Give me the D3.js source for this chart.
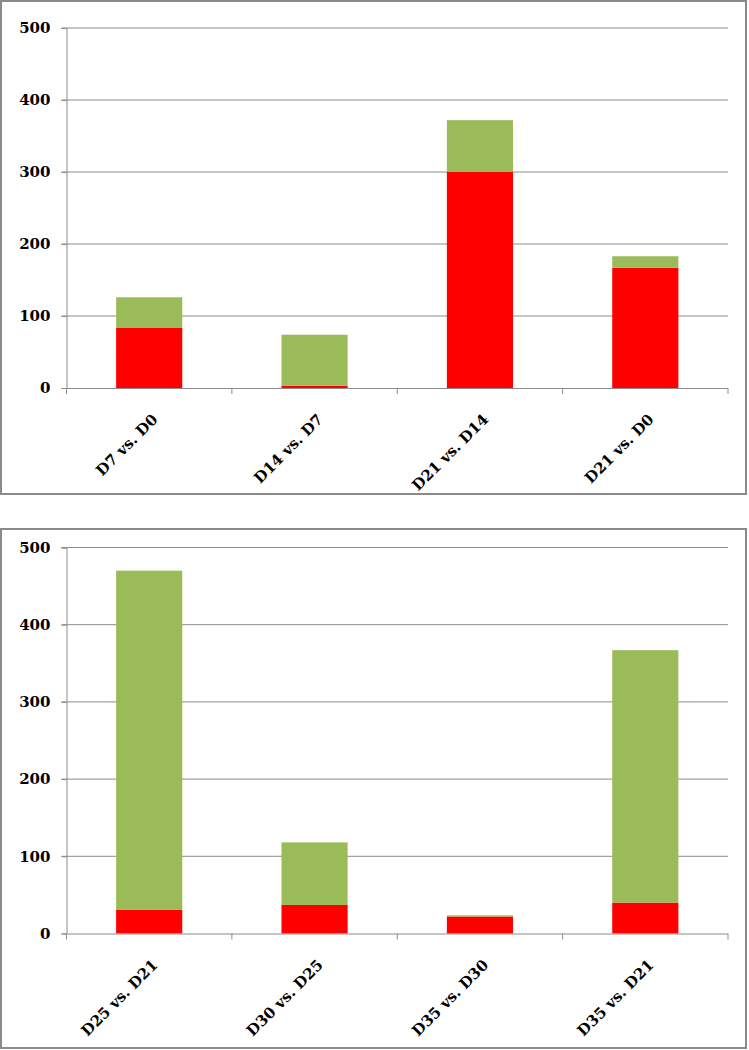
<!DOCTYPE html>
<html>
<head>
    <title></title>
    <style>
        body { margin: 0; background: #fff; }
    </style>
</head>
<body>
<div id="container"></div>

<script src="https://d3js.org/d3.v7.min.js" type="text/javascript"></script>
<script type="text/javascript">
    // data
    const cats1 = ['D7 vs. D0', 'D14 vs. D7', 'D21 vs. D14', 'D21 vs. D0'];
    const red1 = [84, 3, 300, 167];
    const green1 = [42, 71, 72, 16];

    const cats2 = ['D25 vs. D21', 'D30 vs. D25', 'D35 vs. D30', 'D35 vs. D21'];
    const red2 = [31, 37, 22, 40];
    const green2 = [439, 81, 1.5, 327];

    const yTicks = [0, 100, 200, 300, 400, 500];

    let w = 749;
    let h = 1050;
    const svg = d3.select('#container')
        .append('svg')
        .attr('width', w)
        .attr('height', h);

    const colors = { red: '#ff0000', green: '#9bbb59' };
    const gridColor = '#8c8c8c';

    function panel(box, plot, cats, red, green) {
        svg.append('rect')
            .attr('x', box.x)
            .attr('y', box.y)
            .attr('width', box.w)
            .attr('height', box.h)
            .style('fill', '#fff')
            .style('stroke', '#8a8a8a')
            .style('stroke-width', 2);

        let x = d3.scaleBand().domain(cats).range([plot.left, plot.right]).paddingInner(0.6).paddingOuter(0.3);
        let y = d3.scaleLinear().domain([0, 500]).range([plot.bottom, plot.top]);

        const g = svg.append('g');

        // gridlines
        g.selectAll('.grid')
            .data(yTicks.filter(d => d > 0))
            .enter()
            .append('line')
            .attr('x1', plot.left - 5)
            .attr('x2', plot.right)
            .attr('y1', d => y(d))
            .attr('y2', d => y(d))
            .style('stroke', gridColor)
            .style('stroke-width', 1);

        // y axis
        let yAxis = d3.axisLeft(y).tickValues(yTicks).tickSize(5).tickPadding(11);
        const ya = g.append('g')
            .attr('transform', `translate(${plot.left}, 0)`)
            .call(yAxis);
        ya.select('.domain').style('stroke', gridColor);
        ya.selectAll('.tick line').style('stroke', gridColor);
        ya.selectAll('.tick text')
            .style('font-family', 'DejaVu Serif')
            .style('font-weight', 'bold')
            .style('font-size', '15px')
            .style('fill', '#000');

        // bars
        let stackData = cats.map((c, i) => ({ cat: c, red: red[i], green: green[i] }));
        let series = d3.stack().keys(['red', 'green'])(stackData);
        g.selectAll('.series')
            .data(series)
            .enter()
            .append('g')
            .style('fill', d => colors[d.key])
            .selectAll('rect')
            .data(d => d)
            .enter()
            .append('rect')
            .attr('x', d => x(d.data.cat))
            .attr('width', x.bandwidth())
            .attr('y', d => y(d[1]))
            .attr('height', d => y(d[0]) - y(d[1]));

        // x axis
        let edges = d3.range(cats.length + 1).map(i => plot.left + i * (plot.right - plot.left) / cats.length);
        g.append('line')
            .attr('x1', plot.left)
            .attr('x2', plot.right)
            .attr('y1', plot.bottom + 0.5)
            .attr('y2', plot.bottom + 0.5)
            .style('stroke', gridColor);
        g.selectAll('.xtick')
            .data(edges)
            .enter()
            .append('line')
            .attr('x1', d => d)
            .attr('x2', d => d)
            .attr('y1', plot.bottom)
            .attr('y2', plot.bottom + 6)
            .style('stroke', gridColor);

        g.selectAll('.xlabel')
            .data(cats)
            .enter()
            .append('text')
            .attr('transform', d => `translate(${x(d) + x.bandwidth() / 2 + 2}, ${plot.bottom + 25}) rotate(-45)`)
            .attr('text-anchor', 'end')
            .attr('dy', '0.7em')
            .style('font-family', 'DejaVu Serif')
            .style('font-weight', 'bold')
            .style('font-size', '15px')
            .style('fill', '#000')
            .text(d => d);
    }

    panel({ x: 1, y: 1, w: 745, h: 493 }, { left: 66.5, right: 728, top: 28, bottom: 388 }, cats1, red1, green1);
    panel({ x: 1, y: 529, w: 745, h: 519 }, { left: 66.5, right: 728, top: 547.5, bottom: 933.5 }, cats2, red2, green2);
</script>

</body>
</html>
